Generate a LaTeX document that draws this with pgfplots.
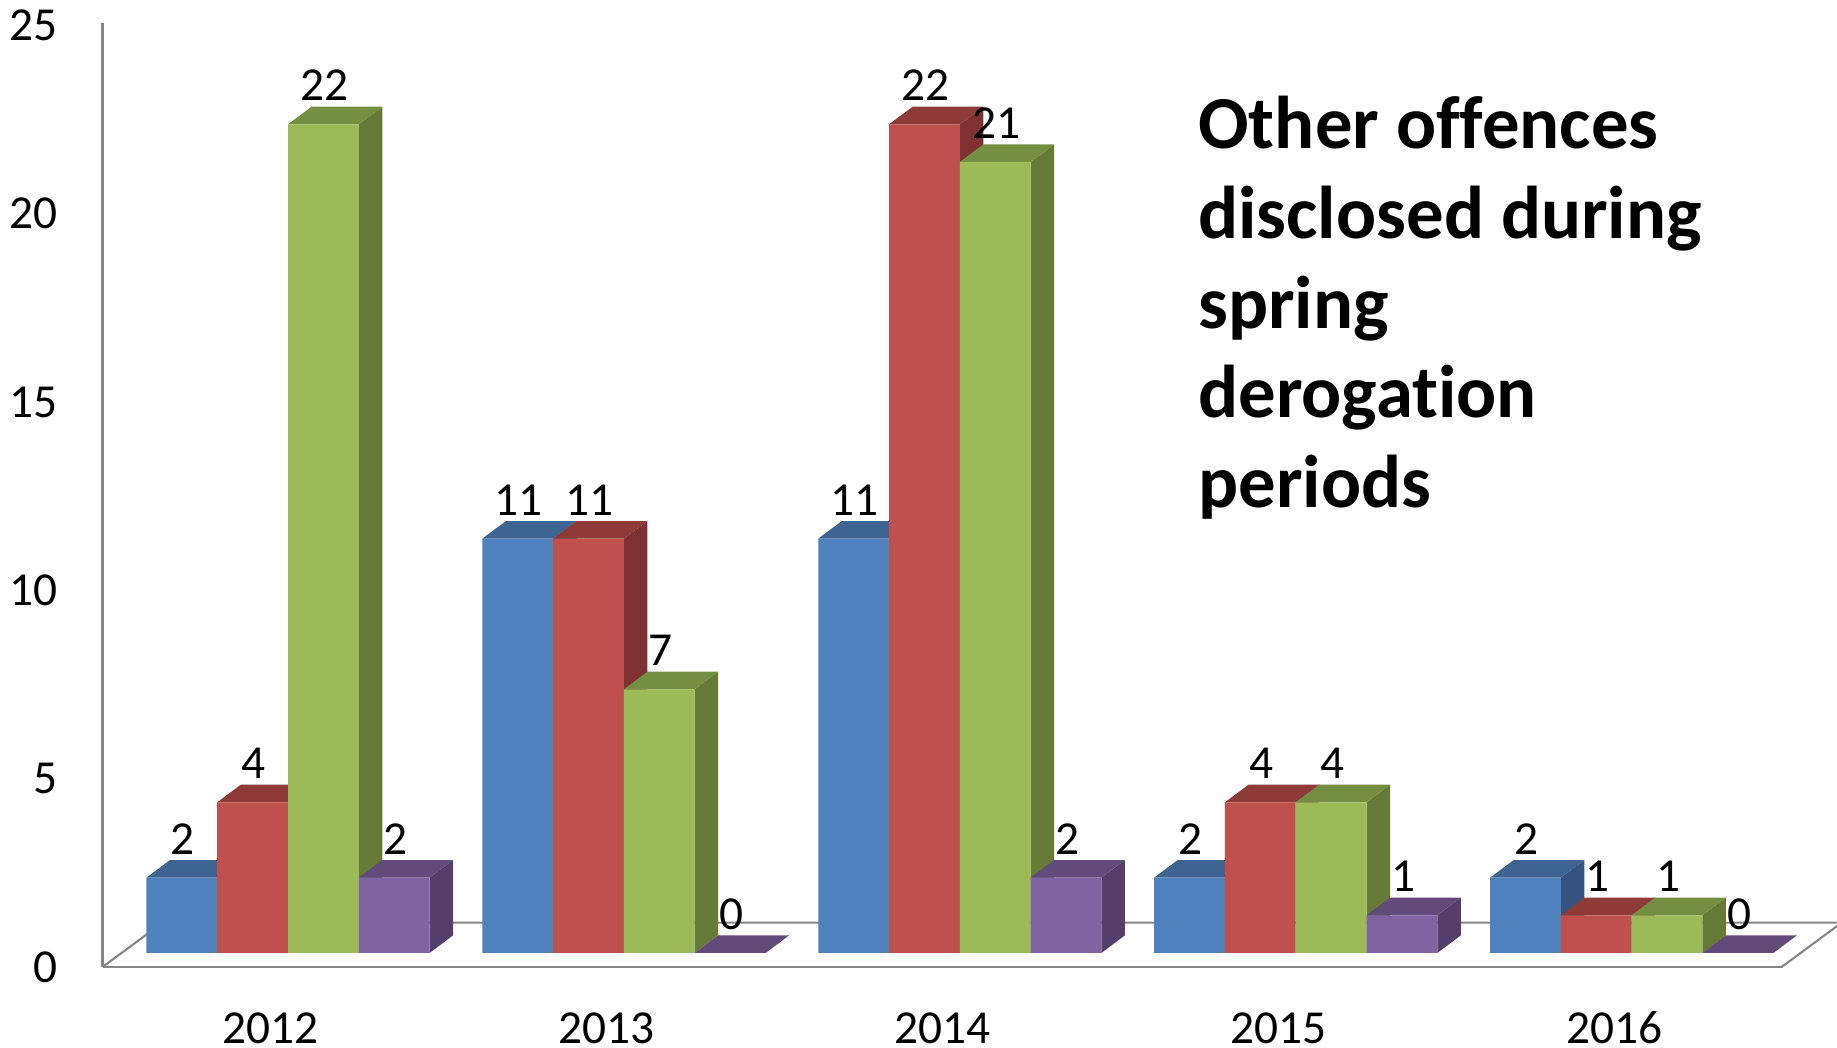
\documentclass[border=0pt]{standalone}
\usepackage{fontspec}
\setmainfont{Carlito}[Ligatures=NoCommon]
\usepackage{pgfplots}
\usepackage{pgfplotstable}
\pgfplotsset{compat=1.18}

\definecolor{bluefront}{HTML}{4F81BD}
\definecolor{bluetop}{HTML}{3E6591}
\definecolor{blueside}{HTML}{335580}
\definecolor{redfront}{HTML}{C0504D}
\definecolor{redtop}{HTML}{8E3A39}
\definecolor{redside}{HTML}{7F3231}
\definecolor{greenfront}{HTML}{9BBB59}
\definecolor{greentop}{HTML}{748F42}
\definecolor{greenside}{HTML}{657A37}
\definecolor{purplefront}{HTML}{8064A2}
\definecolor{purpletop}{HTML}{624A7A}
\definecolor{purpleside}{HTML}{533F6A}
\definecolor{wallgray}{HTML}{868686}

% year index, number of offences
\pgfplotstableread{
x v
0 2
1 11
2 11
3 2
4 2
}\seriesA
\pgfplotstableread{
x v
0 4
1 11
2 22
3 4
4 1
}\seriesB
\pgfplotstableread{
x v
0 22
1 7
2 21
3 4
4 1
}\seriesC
\pgfplotstableread{
x v
0 2
1 0
2 2
3 1
4 0
}\seriesD

% bar width and depth offsets, in axis units
\def\bw{0.2107}
\def\dx{0.0700}
\def\dy{0.4666}

% side and top face of one bar: left edge, value, side colour, top colour
\newcommand{\barfaces}[4]{%
  \pgfmathsetmacro{\xl}{#1}%
  \pgfmathsetmacro{\xr}{#1+\bw}%
  \pgfmathsetmacro{\xrb}{#1+\bw+\dx}%
  \pgfmathsetmacro{\xlb}{#1+\dx}%
  \pgfmathsetmacro{\yt}{#2+\dy}%
  \addplot[fill=#3, draw=none, forget plot] coordinates {(\xr,0) (\xrb,\dy) (\xrb,\yt) (\xr,#2)} --cycle;
  \addplot[fill=#4, draw=none, forget plot] coordinates {(\xl,#2) (\xr,#2) (\xrb,\yt) (\xlb,\yt)} --cycle;
}

\begin{document}
\begin{tikzpicture}
\begin{axis}[
  scale only axis,
  width=716.6pt, height=402.7pt,
  xmin=-0.5005, xmax=4.498,
  ymin=-0.373, ymax=24.678,
  clip=false,
  axis lines=left,
  axis line style={-, draw=wallgray, line width=0.9pt},
  major tick length=0pt,
  xtick={0,1,2,3,4},
  xticklabels={2012,2013,2014,2015,2016},
  ytick={-0.373,4.627,9.627,14.627,19.627,24.627},
  yticklabels={0,5,10,15,20,25},
  /pgf/number format/assume math mode=true,
  tick label style={font=\fontsize{20.2}{24}\selectfont, text=black},
  yticklabel style={inner sep=0pt, xshift=-19pt},
  xticklabel style={inner sep=0pt, anchor=center, yshift=-26pt},
  every node near coord/.append style={font=\fontsize{20.2}{24}\selectfont, text=black, anchor=center, inner sep=0pt, xshift=0.5pt, yshift=16.5pt},
]
% floor
\addplot[draw=wallgray, line width=0.9pt, forget plot] coordinates {(-0.5005,-0.373) (-0.321,0.806) (4.677,0.806) (4.498,-0.373)};

% blue
\barfaces{-0.3697}{2}{blueside}{bluetop}
\barfaces{0.6303}{11}{blueside}{bluetop}
\barfaces{1.6303}{11}{blueside}{bluetop}
\barfaces{2.6303}{2}{blueside}{bluetop}
\barfaces{3.6303}{2}{blueside}{bluetop}
\addplot[ybar, bar width=\bw, bar shift=-0.2644, fill=bluefront, draw=none] table[x=x, y=v] {\seriesA};

% red
\barfaces{-0.1590}{4}{redside}{redtop}
\barfaces{0.8410}{11}{redside}{redtop}
\barfaces{1.8410}{22}{redside}{redtop}
\barfaces{2.8410}{4}{redside}{redtop}
\barfaces{3.8410}{1}{redside}{redtop}
\addplot[ybar, bar width=\bw, bar shift=-0.0537, fill=redfront, draw=none] table[x=x, y=v] {\seriesB};

% green
\barfaces{0.0517}{22}{greenside}{greentop}
\barfaces{1.0517}{7}{greenside}{greentop}
\barfaces{2.0517}{21}{greenside}{greentop}
\barfaces{3.0517}{4}{greenside}{greentop}
\barfaces{4.0517}{1}{greenside}{greentop}
\addplot[ybar, bar width=\bw, bar shift=0.1571, fill=greenfront, draw=none] table[x=x, y=v] {\seriesC};

% purple
\barfaces{0.2624}{2}{purpleside}{purpletop}
\barfaces{1.2624}{0}{purpleside}{purpletop}
\barfaces{2.2624}{2}{purpleside}{purpletop}
\barfaces{3.2624}{1}{purpleside}{purpletop}
\barfaces{4.2624}{0}{purpleside}{purpletop}
\addplot[ybar, bar width=\bw, bar shift=0.3678, fill=purplefront, draw=none] table[x=x, y=v] {\seriesD};

% value labels go last so they sit over every bar
\addplot[draw=none, no markers, nodes near coords, forget plot] table[x expr=\thisrow{x}-0.2644, y=v] {\seriesA};
\addplot[draw=none, no markers, nodes near coords, forget plot] table[x expr=\thisrow{x}-0.0537, y=v] {\seriesB};
\addplot[draw=none, no markers, nodes near coords, forget plot] table[x expr=\thisrow{x}+0.1571, y=v] {\seriesC};
\addplot[draw=none, no markers, nodes near coords, forget plot] table[x expr=\thisrow{x}+0.3678, y=v] {\seriesD};
\end{axis}
\node[anchor=north west, inner sep=0pt, align=left, font=\fontsize{31.9}{38.25}\selectfont\bfseries] at (467.5pt,371.7pt)
  {Other offences\\disclosed during\\spring\\derogation\\periods};
\pgfresetboundingbox
\path[use as bounding box] (-43.75pt,-34.3pt) rectangle (740.25pt,412.7pt);
\end{tikzpicture}
\end{document}
